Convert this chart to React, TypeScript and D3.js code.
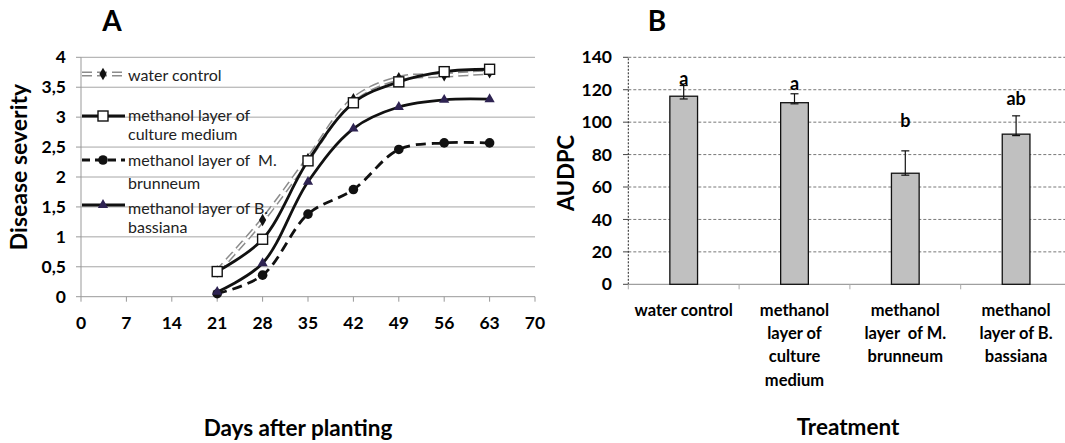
import React, { useRef, useEffect } from 'react';
import * as d3 from 'd3';

// Panel A: disease severity over time
const days = [21, 28, 35, 42, 49, 56, 63];
const dayTicks = [0, 7, 14, 21, 28, 35, 42, 49, 56, 63, 70];
const severityTicks = [0, 0.5, 1, 1.5, 2, 2.5, 3, 3.5, 4];
const waterControl = [0.42, 1.28, 2.3, 3.3, 3.65, 3.7, 3.75];
const cultureMedium = [0.42, 0.96, 2.27, 3.24, 3.59, 3.76, 3.8];
const mBrunneum = [0.05, 0.36, 1.38, 1.79, 2.46, 2.57, 2.57];
const bBassiana = [0.08, 0.56, 1.92, 2.81, 3.17, 3.29, 3.3];
const legendLabels = [
    ['water control'],
    ['methanol layer of', 'culture medium'],
    ['methanol layer of  M.', 'brunneum'],
    ['methanol layer of B.', 'bassiana'],
];

// Panel B: AUDPC per treatment
const treatments = [
    ['water control'],
    ['methanol', 'layer of', 'culture', 'medium'],
    ['methanol', 'layer  of M.', 'brunneum'],
    ['methanol', 'layer of B.', 'bassiana'],
];
const audpc = [116, 112, 68.5, 92.6];
const errUpper = [122.6, 117.5, 82.3, 103.9];
const errLower = [114.3, 111.3, 67.3, 91.7];
const letters = ['a', 'a', 'b', 'ab'];
const letterAt = [123, 119.6, 97, 110.7];
const audpcTicks = [0, 20, 40, 60, 80, 100, 120, 140];

const FONT = 'Lato, "Open Sans", sans-serif';
const fmtComma = (v: number) => String(v).replace('.', ',');

const App = () => {
    const svgRef = useRef<SVGSVGElement>(null);

    useEffect(() => {
        const svg = d3.select(svgRef.current);
        svg.selectAll('*').remove();
        svg.style('font-family', FONT);

        // ---------- panel A ----------
        const x = d3.scaleLinear().domain([0, 70]).range([81, 535]);
        const y = d3.scaleLinear().domain([0, 4]).range([296.7, 57.3]);
        const a = svg.append('g');

        a.selectAll('line.grid')
            .data(severityTicks.filter(t => t > 0))
            .enter().append('line')
            .attr('x1', x(0)).attr('x2', x(70))
            .attr('y1', d => y(d)).attr('y2', d => y(d))
            .attr('stroke', '#a6a6a6').attr('stroke-width', 1);

        // axes
        a.append('line').attr('x1', x(0)).attr('x2', x(0)).attr('y1', y(0)).attr('y2', y(4))
            .attr('stroke', '#999');
        a.append('line').attr('x1', x(0)).attr('x2', x(70)).attr('y1', y(0)).attr('y2', y(0))
            .attr('stroke', '#999');
        a.selectAll('line.ytick').data(severityTicks).enter().append('line')
            .attr('x1', x(0) - 5).attr('x2', x(0))
            .attr('y1', d => y(d)).attr('y2', d => y(d)).attr('stroke', '#999');
        a.selectAll('line.xtick').data(dayTicks).enter().append('line')
            .attr('x1', d => x(d)).attr('x2', d => x(d))
            .attr('y1', y(0)).attr('y2', y(0) + 5).attr('stroke', '#999');

        a.selectAll('text.ytl').data(severityTicks).enter().append('text')
            .attr('x', 66).attr('y', d => y(d)).attr('dy', '0.35em')
            .attr('text-anchor', 'end').style('font-size', '17.5px').style('font-weight', 700)
            .text(d => fmtComma(d));
        a.selectAll('text.xtl').data(dayTicks).enter().append('text')
            .attr('x', d => x(d)).attr('y', 323).attr('dy', '0.35em')
            .attr('text-anchor', 'middle').style('font-size', '17.5px').style('font-weight', 700)
            .text(d => d);

        a.append('text').attr('transform', 'translate(27,167) rotate(-90)')
            .attr('text-anchor', 'middle').style('font-size', '23px').style('font-weight', 700)
            .text('Disease severity');
        a.append('text').attr('x', 298).attr('y', 428).attr('dy', '0.35em')
            .attr('text-anchor', 'middle').style('font-size', '22.5px').style('font-weight', 700)
            .text('Days after planting');
        a.append('text').attr('x', 112).attr('y', 21).attr('dy', '0.35em')
            .attr('text-anchor', 'middle').style('font-size', '28px').style('font-weight', 700)
            .text('A');

        const line = (vals: number[]) => d3.line<number>()
            .x((_, i) => x(days[i]))
            .y(d => y(d))
            .curve(d3.curveCatmullRom.alpha(0.5))(vals);

        // water control: gray double dashed line
        a.append('path').attr('d', line(waterControl)).attr('fill', 'none')
            .attr('stroke', '#8c8c8c').attr('stroke-width', 5).attr('stroke-dasharray', '10,5');
        a.append('path').attr('d', line(waterControl)).attr('fill', 'none')
            .attr('stroke', '#fff').attr('stroke-width', 2).attr('stroke-dasharray', '10,5');
        a.selectAll('path.wc').data(waterControl).enter().append('path')
            .attr('transform', (d, i) => `translate(${x(days[i])},${y(d)})`)
            .attr('d', d3.symbol(d3.symbolDiamond, 45)()).attr('fill', '#111');

        a.append('path').attr('d', line(mBrunneum)).attr('fill', 'none')
            .attr('stroke', '#111').attr('stroke-width', 2.8).attr('stroke-dasharray', '10,6');
        a.selectAll('circle.mb').data(mBrunneum).enter().append('circle')
            .attr('cx', (_, i) => x(days[i])).attr('cy', d => y(d)).attr('r', 4.8).attr('fill', '#111');

        a.append('path').attr('d', line(bBassiana)).attr('fill', 'none')
            .attr('stroke', '#111').attr('stroke-width', 2.8);
        a.selectAll('path.bb').data(bBassiana).enter().append('path')
            .attr('transform', (d, i) => `translate(${x(days[i])},${y(d)})`)
            .attr('d', d3.symbol(d3.symbolTriangle, 45)()).attr('fill', '#2e2352');

        a.append('path').attr('d', line(cultureMedium)).attr('fill', 'none')
            .attr('stroke', '#111').attr('stroke-width', 2.8);
        a.selectAll('rect.cm').data(cultureMedium).enter().append('rect')
            .attr('x', (_, i) => x(days[i]) - 5).attr('y', d => y(d) - 5)
            .attr('width', 10).attr('height', 10)
            .attr('fill', '#fff').attr('stroke', '#111').attr('stroke-width', 1.4);

        // legend
        const legRows = [74, 116, 160, 205];
        const legText = [[75], [115, 134], [160, 183], [208.5, 227.5]];
        const lx0 = 82, lx1 = 125, mx = 103;
        const lg = a.append('g');
        lg.append('line').attr('x1', lx0).attr('x2', lx1).attr('y1', legRows[0]).attr('y2', legRows[0])
            .attr('stroke', '#8c8c8c').attr('stroke-width', 5).attr('stroke-dasharray', '10,5');
        lg.append('line').attr('x1', lx0).attr('x2', lx1).attr('y1', legRows[0]).attr('y2', legRows[0])
            .attr('stroke', '#fff').attr('stroke-width', 2).attr('stroke-dasharray', '10,5');
        lg.append('path').attr('transform', `translate(${mx},${legRows[0]})`)
            .attr('d', d3.symbol(d3.symbolDiamond, 45)()).attr('fill', '#111');
        lg.append('line').attr('x1', lx0).attr('x2', lx1).attr('y1', legRows[1]).attr('y2', legRows[1])
            .attr('stroke', '#111').attr('stroke-width', 2.8);
        lg.append('rect').attr('x', mx - 5).attr('y', legRows[1] - 5).attr('width', 10).attr('height', 10)
            .attr('fill', '#fff').attr('stroke', '#111').attr('stroke-width', 1.4);
        lg.append('line').attr('x1', lx0).attr('x2', lx1).attr('y1', legRows[2]).attr('y2', legRows[2])
            .attr('stroke', '#111').attr('stroke-width', 2.8).attr('stroke-dasharray', '8,5');
        lg.append('circle').attr('cx', mx).attr('cy', legRows[2]).attr('r', 4.8).attr('fill', '#111');
        lg.append('line').attr('x1', lx0).attr('x2', lx1).attr('y1', legRows[3]).attr('y2', legRows[3])
            .attr('stroke', '#111').attr('stroke-width', 2.8);
        lg.append('path').attr('transform', `translate(${mx},${legRows[3]})`)
            .attr('d', d3.symbol(d3.symbolTriangle, 45)()).attr('fill', '#2e2352');
        legendLabels.forEach((lines, i) => {
            lines.forEach((t, j) => {
                lg.append('text').attr('x', 128).attr('y', legText[i][j]).attr('dy', '0.35em')
                    .style('font-size', '16px').attr('fill', '#222')
                    .style('white-space', 'pre').text(t);
            });
        });

        // ---------- panel B ----------
        const xb = d3.scaleBand<number>().domain(d3.range(treatments.length)).range([628.3, 1071.5]);
        const yb = d3.scaleLinear().domain([0, 140]).range([284.3, 57.3]);
        const b = svg.append('g');

        b.selectAll('line.grid').data(audpcTicks.filter(t => t > 0)).enter().append('line')
            .attr('x1', 628.3).attr('x2', 1071.5)
            .attr('y1', d => yb(d)).attr('y2', d => yb(d))
            .attr('stroke', '#555').attr('stroke-width', 0.8).attr('stroke-dasharray', '3,2');
        b.append('line').attr('x1', 628.3).attr('x2', 628.3).attr('y1', yb(0)).attr('y2', yb(140))
            .attr('stroke', '#222').attr('stroke-width', 1).attr('stroke-dasharray', '2,1.5');
        b.selectAll('line.ytick').data(audpcTicks).enter().append('line')
            .attr('x1', 623).attr('x2', 628.3)
            .attr('y1', d => yb(d)).attr('y2', d => yb(d)).attr('stroke', '#444');
        b.append('line').attr('x1', 628.3).attr('x2', 1071.5).attr('y1', yb(0)).attr('y2', yb(0))
            .attr('stroke', '#888');
        b.selectAll('line.xtick').data(d3.range(treatments.length + 1)).enter().append('line')
            .attr('x1', d => 628.3 + d * xb.bandwidth()).attr('x2', d => 628.3 + d * xb.bandwidth())
            .attr('y1', yb(0)).attr('y2', yb(0) + 5).attr('stroke', '#aaa');

        b.selectAll('text.ytl').data(audpcTicks).enter().append('text')
            .attr('x', 612).attr('y', d => yb(d)).attr('dy', '0.35em')
            .attr('text-anchor', 'end').style('font-size', '17.5px').style('font-weight', 700)
            .text(d => d);

        const bw = 27.7;
        b.selectAll('rect.bar').data(audpc).enter().append('rect')
            .attr('x', (_, i) => (xb(i) as number) + xb.bandwidth() / 2 - bw / 2)
            .attr('y', d => yb(d)).attr('width', bw).attr('height', d => yb(0) - yb(d))
            .attr('fill', '#c0c0c0').attr('stroke', '#111').attr('stroke-width', 1.3);

        audpc.forEach((_, i) => {
            const cx = (xb(i) as number) + xb.bandwidth() / 2;
            b.append('line').attr('x1', cx).attr('x2', cx)
                .attr('y1', yb(errLower[i])).attr('y2', yb(errUpper[i])).attr('stroke', '#111').attr('stroke-width', 1.2);
            [errLower[i], errUpper[i]].forEach(v => {
                b.append('line').attr('x1', cx - 4).attr('x2', cx + 4)
                    .attr('y1', yb(v)).attr('y2', yb(v)).attr('stroke', '#111').attr('stroke-width', 1.2);
            });
            b.append('text').attr('x', cx).attr('y', yb(letterAt[i]))
                .attr('text-anchor', 'middle').style('font-size', '18px').style('font-weight', 700)
                .text(letters[i]);
            treatments[i].forEach((t, j) => {
                b.append('text').attr('x', cx).attr('y', 310 + j * 23.3).attr('dy', '0.35em')
                    .attr('text-anchor', 'middle').style('font-size', '16.5px').style('font-weight', 700)
                    .style('white-space', 'pre').text(t);
            });
        });

        b.append('text').attr('transform', 'translate(574,173) rotate(-90)')
            .attr('text-anchor', 'middle').style('font-size', '22px').style('font-weight', 700)
            .text('AUDPC');
        b.append('text').attr('x', 848).attr('y', 427).attr('dy', '0.35em')
            .attr('text-anchor', 'middle').style('font-size', '22.5px').style('font-weight', 700)
            .text('Treatment');
        b.append('text').attr('x', 657).attr('y', 21).attr('dy', '0.35em')
            .attr('text-anchor', 'middle').style('font-size', '28px').style('font-weight', 700)
            .text('B');
    }, []);

    return (
        <svg ref={svgRef} width={1065} height={443}
            style={{ position: 'absolute', left: 0, top: 0, background: '#fff' }} />
    );
};

export default App;
